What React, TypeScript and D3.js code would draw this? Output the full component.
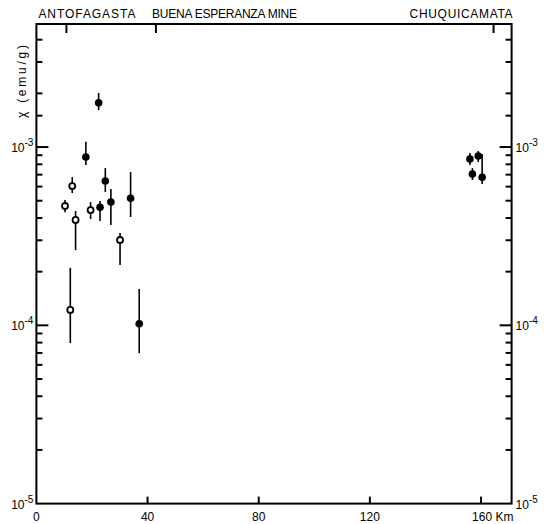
import React from "react";
import * as d3 from "d3";

// distances (km) and susceptibility (emu/g)
const openKm = [10.3, 12.9, 14.1, 12.2, 19.5, 30.1];
const openChi = [4.67e-4, 6.04e-4, 3.9e-4, 1.22e-4, 4.43e-4, 3.01e-4];
const openHi = [5.05e-4, 6.79e-4, 4.38e-4, 2.1e-4, 4.92e-4, 3.3e-4];
const openLo = [4.31e-4, 5.52e-4, 2.64e-4, 7.96e-5, 3.95e-4, 2.18e-4];

const filledKm = [22.4, 17.8, 24.8, 22.9, 26.8, 33.9, 37.0, 156.0, 159.0, 156.9, 160.4];
const filledChi = [1.77e-3, 8.79e-4, 6.45e-4, 4.59e-4, 4.92e-4, 5.16e-4, 1.02e-4, 8.57e-4, 8.9e-4, 7.06e-4, 6.76e-4];
const filledHi = [2.01e-3, 1.07e-3, 7.62e-4, 4.98e-4, 5.81e-4, 7.24e-4, 1.6e-4, 9.25e-4, 9.5e-4, 7.62e-4, 9.14e-4];
const filledLo = [1.61e-3, 7.93e-4, 5.6e-4, 3.85e-4, 3.65e-4, 4.05e-4, 6.98e-5, 7.93e-4, 8.24e-4, 6.53e-4, 6.2e-4];

const siteNames = ["ANTOFAGASTA", "BUENA ESPERANZA MINE", "CHUQUICAMATA"];
const siteKm = [10.8, 43, 164.5];

const xTicks = [0, 40, 80, 120, 160];
const xTickLabels = ["0", "40", "80", "120", "160 Km"];
const yMajor = [1e-5, 1e-4, 1e-3];
const yMajorExp = ["-5", "-4", "-3"];
const yMinor = [
  2e-5, 3e-5, 4e-5, 5e-5, 6e-5, 7e-5, 8e-5, 9e-5,
  2e-4, 3e-4, 4e-4, 5e-4, 6e-4, 7e-4, 8e-4, 9e-4,
  1.5e-3, 2e-3, 3e-3, 4e-3,
];

const W = 546;
const H = 524;
const font = "'Liberation Sans', Arial, sans-serif";

export default function App() {
  const x = d3.scaleLinear().domain([0, 171]).range([36.4, 511.6]);
  const y = d3.scaleLog().domain([1e-5, 4.9e-3]).range([503.6, 24]);
  const x0 = x.range()[0];
  const x1 = x.range()[1];
  const yb = y.range()[0];
  const yt = y.range()[1];

  // label placements along the top edge
  const siteLabel = [
    { x: x0 + 2, anchor: "start", len: 97 },
    { x: 152, anchor: "start", len: 145 },
    { x: x1 + 1, anchor: "end", len: 103 },
  ];

  return (
    <svg
      width={W}
      height={H}
      style={{ position: "absolute", left: 0, top: 0, background: "#fff" }}
      fontFamily={font}
    >
      <rect x={0} y={0} width={W} height={H} fill="#fff" />

      {/* site labels and ticks */}
      {siteNames.map((s, i) => (
        <g key={s}>
          <text
            x={siteLabel[i].x}
            y={18}
            fontSize={12}
            textAnchor={siteLabel[i].anchor as any}
            textLength={siteLabel[i].len}
            lengthAdjust="spacing"
          >
            {s}
          </text>
          <line x1={x(siteKm[i])} x2={x(siteKm[i])} y1={yt} y2={yt + 9} stroke="#000" strokeWidth={2} />
        </g>
      ))}

      {/* frame */}
      <rect x={x0} y={yt} width={x1 - x0} height={yb - yt} fill="none" stroke="#000" strokeWidth={2} />

      {/* y ticks both sides */}
      {yMajor.map((v, i) => (
        <g key={"M" + v}>
          {i > 0 && (
            <>
              <line x1={x0} x2={x0 + 12} y1={y(v)} y2={y(v)} stroke="#000" strokeWidth={2} />
              <line x1={x1 - 12} x2={x1} y1={y(v)} y2={y(v)} stroke="#000" strokeWidth={2} />
            </>
          )}
          <text x={x0 - 3} y={y(v) + 5} fontSize={12} textAnchor="end">
            10<tspan dy={-6} fontSize={10}>{yMajorExp[i]}</tspan>
          </text>
          <text x={x1 + 4} y={y(v) + 5} fontSize={12}>
            10<tspan dy={-6} fontSize={10}>{yMajorExp[i]}</tspan>
          </text>
        </g>
      ))}
      {yMinor.map((v) => (
        <g key={"m" + v}>
          <line x1={x0} x2={x0 + 6} y1={y(v)} y2={y(v)} stroke="#000" strokeWidth={2} />
          <line x1={x1 - 6} x2={x1} y1={y(v)} y2={y(v)} stroke="#000" strokeWidth={2} />
        </g>
      ))}

      {/* x ticks */}
      {xTicks.map((v, i) => (
        <g key={"x" + v}>
          {v > 0 && <line x1={x(v)} x2={x(v)} y1={yb} y2={yb - 7} stroke="#000" strokeWidth={2} />}
          <text
            x={v === 160 ? x(v) - 9 : x(v)}
            y={yb + 17}
            fontSize={12}
            textAnchor={v === 160 ? "start" : "middle"}
          >
            {xTickLabels[i]}
          </text>
        </g>
      ))}

      {/* y axis title */}
      <text
        transform={`translate(26,118) rotate(-90)`}
        fontSize={12}
        textLength={73}
        lengthAdjust="spacing"
      >
        χ (emu/g)
      </text>

      {/* error bars */}
      {openKm.map((k, i) => (
        <line key={"oe" + i} x1={x(k)} x2={x(k)} y1={y(openHi[i])} y2={y(openLo[i])} stroke="#000" strokeWidth={1.6} />
      ))}
      {filledKm.map((k, i) => (
        <line key={"fe" + i} x1={x(k)} x2={x(k)} y1={y(filledHi[i])} y2={y(filledLo[i])} stroke="#000" strokeWidth={1.6} />
      ))}

      {/* points */}
      {openKm.map((k, i) => (
        <circle key={"o" + i} cx={x(k)} cy={y(openChi[i])} r={3} fill="#fff" stroke="#000" strokeWidth={1.8} />
      ))}
      {filledKm.map((k, i) => (
        <circle key={"f" + i} cx={x(k)} cy={y(filledChi[i])} r={3.8} fill="#000" />
      ))}
    </svg>
  );
}
